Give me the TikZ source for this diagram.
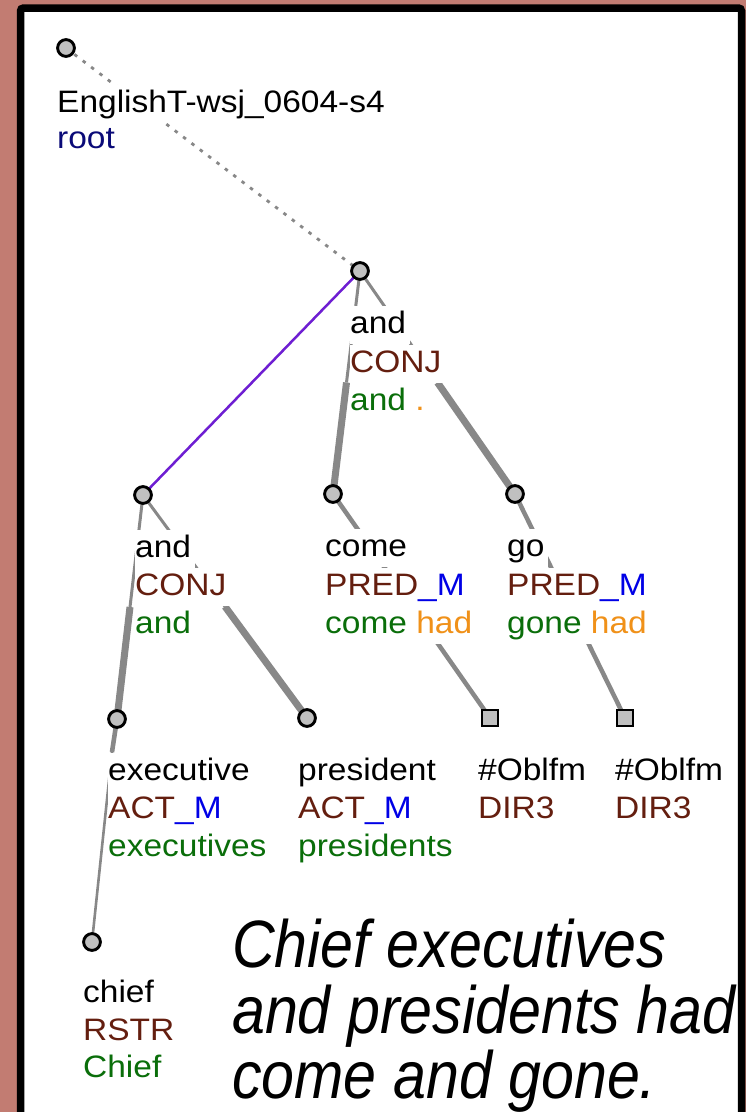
\documentclass[tikz,border=0pt]{standalone}
\usepackage{fontspec}
\setmainfont{Liberation Sans}[FakeStretch=1.08]
\newfontfamily\bigfont{Liberation Sans}[FakeStretch=0.883]
\usetikzlibrary{calc}
\definecolor{bgred}{RGB}{194,124,114}
\definecolor{navyc}{RGB}{10,10,120}
\definecolor{funcc}{RGB}{100,30,15}
\definecolor{mblue}{RGB}{0,0,230}
\definecolor{greenc}{RGB}{10,110,10}
\definecolor{orangec}{RGB}{240,145,25}
\definecolor{purplec}{RGB}{110,30,210}
\definecolor{edgegray}{RGB}{136,136,136}
\definecolor{ndgray}{RGB}{192,192,192}
\pgfdeclarelayer{bg}
\pgfdeclarelayer{edges}
\pgfdeclarelayer{labels}
\pgfsetlayers{bg,edges,labels,main}
\tikzset{
  nd/.style={circle, draw=black, fill=ndgray, line width=2.9pt, minimum size=16.8pt, inner sep=0pt},
  sq/.style={rectangle, draw=black, fill=ndgray, line width=2.8pt, minimum size=16pt, inner sep=0pt},
  lbl/.style={fill=white, inner xsep=0pt, inner ysep=0pt, text height=27pt, text depth=11pt, anchor=base west,
    font=\fontsize{31}{38}\selectfont, execute at end node={\kern4pt}},
  big/.style={inner sep=0pt, anchor=base west, font=\bigfont\itshape\fontsize{67}{66}\selectfont},
  thinedge/.style={draw=edgegray, line width=3pt},
  thickedge/.style={draw=edgegray, line width=7pt},
  midedge/.style={draw=edgegray, line width=4.5pt},
  rstrthick/.style={draw=edgegray, line width=4.6pt},
  rstrthin/.style={draw=edgegray, line width=2.6pt},
  coordedge/.style={draw=purplec, line width=2.5pt},
  rootedge/.style={draw=edgegray, line width=2.8pt, dash pattern=on 3.5pt off 7pt},
}
\begin{document}
\begin{tikzpicture}[x=1pt,y=-1pt]
\useasboundingbox (0,0) rectangle (746,1112);
\begin{pgfonlayer}{bg}
\clip (0,0) rectangle (746,1112);
\fill[bgred] (0,0) rectangle (746,1112);
\draw[line width=7.5pt, fill=white, rounded corners=3pt] (20.5,8) rectangle (741.5,1140);
\end{pgfonlayer}

% nodes
\node[nd] (root) at (66,48) {};
\node[nd] (andT) at (360,271) {};
\node[nd] (andL) at (143,495) {};
\node[nd] (come) at (333,494) {};
\node[nd] (go) at (515,494) {};
\node[nd] (exec) at (117,719) {};
\node[nd] (pres) at (307,718) {};
\node[sq] (obl1) at (490,718) {};
\node[sq] (obl2) at (625,718) {};
\node[nd] (chief) at (92,942) {};
\coordinate (ecbend) at (112,752);

% edges
\begin{pgfonlayer}{edges}
\draw[rootedge] (root.center) -- (andT.center);
\draw[coordedge] (andT.center) -- (andL.center);
\draw[thinedge] (andT.center) -- ($(andT.center)!0.5!(come.center)$);
\draw[thickedge] ($(andT.center)!0.5!(come.center)$) -- (come.center);
\draw[thinedge] (andT.center) -- ($(andT.center)!0.5!(go.center)$);
\draw[thickedge] ($(andT.center)!0.5!(go.center)$) -- (go.center);
\draw[thinedge] (andL.center) -- ($(andL.center)!0.5!(exec.center)$);
\draw[thickedge] ($(andL.center)!0.5!(exec.center)$) -- (exec.center);
\draw[thinedge] (andL.center) -- ($(andL.center)!0.5!(pres.center)$);
\draw[thickedge] ($(andL.center)!0.5!(pres.center)$) -- (pres.center);
\draw[midedge] (come.center) -- (obl1.center);
\draw[midedge] (go.center) -- (obl2.center);
\draw[rstrthick] (exec.center) -- (ecbend);
\draw[rstrthin] (ecbend) -- (chief.center);
\end{pgfonlayer}

% labels
\begin{pgfonlayer}{labels}
\node[lbl] (rootA) at (57,112) {EnglishT-wsj\_0604-s4};
\node[lbl] (rootB) at (57,148) {\color{navyc}root};

\node[lbl] (andTA) at (350,333) {and};
\node[lbl] (andTB) at (350,372) {\color{funcc}CONJ};
\node[lbl] (andTC) at (350,410) {{\color{greenc}and} {\color{orangec}.}};

\node[lbl] (andLA) at (135,557) {and};
\node[lbl] (andLB) at (135,595) {\color{funcc}CONJ};
\node[lbl] (andLC) at (135,633) {\color{greenc}and};

\node[lbl] (comeA) at (325,556) {come};
\node[lbl] (comeB) at (325,595) {{\color{funcc}PRED}{\color{mblue}\_M}};
\node[lbl] (comeC) at (325,633) {{\color{greenc}come} {\color{orangec}had}};

\node[lbl] (goA) at (507,556) {go};
\node[lbl] (goB) at (507,595) {{\color{funcc}PRED}{\color{mblue}\_M}};
\node[lbl] (goC) at (507,633) {{\color{greenc}gone} {\color{orangec}had}};

\node[lbl] (execA) at (108,780) {executive};
\node[lbl] (execB) at (108,818) {{\color{funcc}ACT}{\color{mblue}\_M}};
\node[lbl] (execC) at (108,856) {\color{greenc}executives};

\node[lbl] (presA) at (298,780) {president};
\node[lbl] (presB) at (298,818) {{\color{funcc}ACT}{\color{mblue}\_M}};
\node[lbl] (presC) at (298,856) {\color{greenc}presidents};

\node[lbl] (obl1A) at (478,780) {\#Oblfm};
\node[lbl] (obl1B) at (478,818) {\color{funcc}DIR3};

\node[lbl] (obl2A) at (615,780) {\#Oblfm};
\node[lbl] (obl2B) at (615,818) {\color{funcc}DIR3};

\node[lbl] (chiefA) at (83,1002) {chief};
\node[lbl] (chiefB) at (83,1040) {\color{funcc}RSTR};
\node[lbl] (chiefC) at (83,1077) {\color{greenc}Chief};
\end{pgfonlayer}

\node[big] (s1) at (232,967) {Chief executives};
\node[big] (s2) at (232,1033) {and presidents had};
\node[big] (s3) at (232,1098) {come and gone.};
\end{tikzpicture}
\end{document}
